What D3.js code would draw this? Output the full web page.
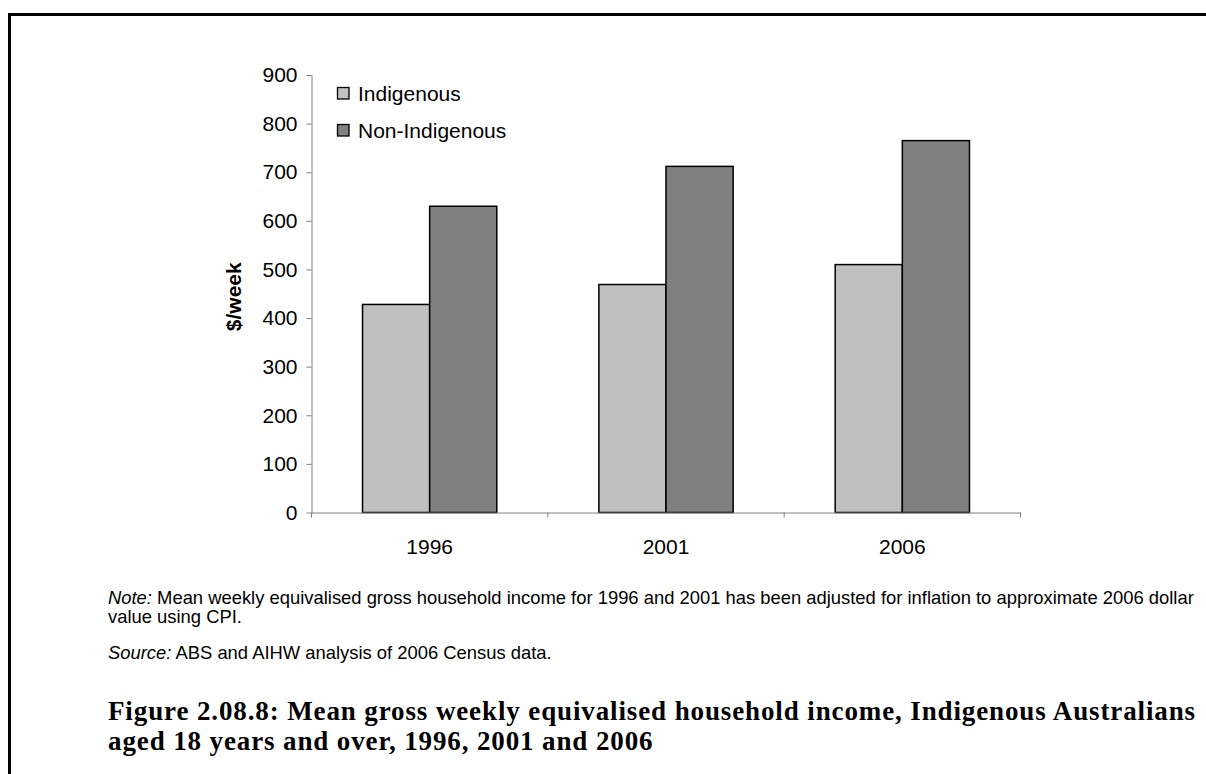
<!DOCTYPE html>
<html>
<head>
<meta charset="utf-8">
<script src="https://cdn.jsdelivr.net/npm/d3@7"></script>
<style>
  html, body { margin: 0; padding: 0; background: #fff; }
  svg { display: block; }
</style>
</head>
<body>
<svg id="chart" width="1206" height="774"></svg>
<script>
// ---- data ----
const years = ["1996", "2001", "2006"];
const indigenous = [428, 469, 510];
const nonIndigenous = [630, 712, 765];
const seriesNames = ["Indigenous", "Non-Indigenous"];
const seriesColors = ["#c0c0c0", "#808080"];
const yTicks = [0, 100, 200, 300, 400, 500, 600, 700, 800, 900];
const yLabel = "$/week";
const noteLines = [
  ["Note:", " Mean weekly equivalised gross household income for 1996 and 2001 has been adjusted for inflation to approximate 2006 dollar"],
  ["", "value using CPI."]
];
const sourceLine = ["Source:", " ABS and AIHW analysis of 2006 Census data."];
const titleLines = [
  "Figure 2.08.8: Mean gross weekly equivalised household income, Indigenous Australians",
  "aged 18 years and over, 1996, 2001 and 2006"
];

// ---- layout ----
const svg = d3.select("#chart");
const sans = "'Liberation Sans', Arial, sans-serif";
const serif = "'Liberation Serif', 'Times New Roman', serif";

// frame
svg.append("path")
  .attr("d", "M9.5,774 L9.5,14.5 L1206,14.5")
  .attr("fill", "none").attr("stroke", "#000").attr("stroke-width", 3);

const plotLeft = 311.5, plotRight = 1020.5, plotTop = 75, plotBottom = 512.5;

const y = d3.scaleLinear().domain([0, 900]).range([plotBottom, plotTop]);
const x0 = d3.scaleBand().domain(years).range([plotLeft, plotRight]).padding(0);
const x1 = d3.scaleBand().domain(seriesNames).range([0, x0.bandwidth()])
  .paddingInner(0).paddingOuter(0.76);

const rows = years.map((yr, i) => ({ year: yr, values: [indigenous[i], nonIndigenous[i]] }));

// bars
const groups = svg.append("g").selectAll("g").data(rows).join("g")
  .attr("transform", d => `translate(${x0(d.year)},0)`);
groups.selectAll("rect")
  .data(d => d.values.map((v, j) => ({ name: seriesNames[j], value: v, color: seriesColors[j] })))
  .join("rect")
  .attr("x", d => x1(d.name))
  .attr("y", d => y(d.value))
  .attr("width", x1.bandwidth())
  .attr("height", d => y(0) - y(d.value))
  .attr("fill", d => d.color)
  .attr("stroke", "#000")
  .attr("stroke-width", 1.5);

// y axis
const yAxis = svg.append("g").attr("transform", `translate(${plotLeft},0)`)
  .call(d3.axisLeft(y).tickValues(yTicks).tickSize(5).tickPadding(9).tickSizeOuter(0));
yAxis.select(".domain").attr("stroke", "#808080");
yAxis.selectAll(".tick line").attr("stroke", "#808080");
yAxis.selectAll("text").attr("font-family", sans).attr("font-size", 21).attr("fill", "#000");

// x axis (labels at band centres, ticks at band boundaries)
const xAxis = svg.append("g").attr("transform", `translate(0,${plotBottom})`)
  .call(d3.axisBottom(x0).tickSize(0).tickPadding(27).tickSizeOuter(0));
xAxis.select(".domain").attr("stroke", "#808080");
xAxis.selectAll("text").attr("font-family", sans).attr("font-size", 21).attr("fill", "#000");
const bounds = years.map(yr => x0(yr)).concat([x0(years[years.length - 1]) + x0.bandwidth()]);
xAxis.selectAll("line.bound").data(bounds).join("line").attr("class", "bound")
  .attr("x1", d => d).attr("x2", d => d).attr("y1", 0).attr("y2", 5)
  .attr("stroke", "#808080");

// y label
svg.append("text")
  .attr("transform", `translate(241,${(plotTop + plotBottom) / 2 + 3}) rotate(-90)`)
  .attr("text-anchor", "middle")
  .attr("font-family", sans).attr("font-size", 21).attr("font-weight", "bold")
  .text(yLabel);

// legend
const legend = svg.append("g").attr("transform", "translate(337,87)");
seriesNames.forEach((name, i) => {
  const g = legend.append("g").attr("transform", `translate(0,${i * 37})`);
  g.append("rect").attr("x", 0.5).attr("y", 0.5).attr("width", 11.5).attr("height", 11.5)
    .attr("fill", seriesColors[i]).attr("stroke", "#000").attr("stroke-width", 1.3);
  g.append("text").attr("x", 21).attr("y", 13.5)
    .attr("font-family", sans).attr("font-size", 21).attr("fill", "#000").text(name);
});

// notes
const notes = svg.append("g").attr("font-family", sans).attr("font-size", 18.4).attr("fill", "#000");
noteLines.forEach((ln, i) => {
  const t = notes.append("text").attr("x", 108).attr("y", 603.5 + i * 19);
  if (ln[0]) t.append("tspan").attr("font-style", "italic").text(ln[0]);
  t.append("tspan").text(ln[1]);
});
const src = notes.append("text").attr("x", 108).attr("y", 658.5);
src.append("tspan").attr("font-style", "italic").text(sourceLine[0]);
src.append("tspan").text(sourceLine[1]);

// title (letter-spacing fitted so the first line spans the reference width)
const titleEls = titleLines.map((ln, i) =>
  svg.append("text").attr("x", 108).attr("y", 720 + i * 30)
    .attr("font-family", serif).attr("font-weight", "bold").attr("font-size", 27)
    .attr("fill", "#000").text(ln));
const w0 = titleEls[0].node().getComputedTextLength();
const ls = Math.max(0, (1088 - w0) / titleLines[0].length);
titleEls.forEach(t => t.attr("letter-spacing", ls));
</script>
</body>
</html>
